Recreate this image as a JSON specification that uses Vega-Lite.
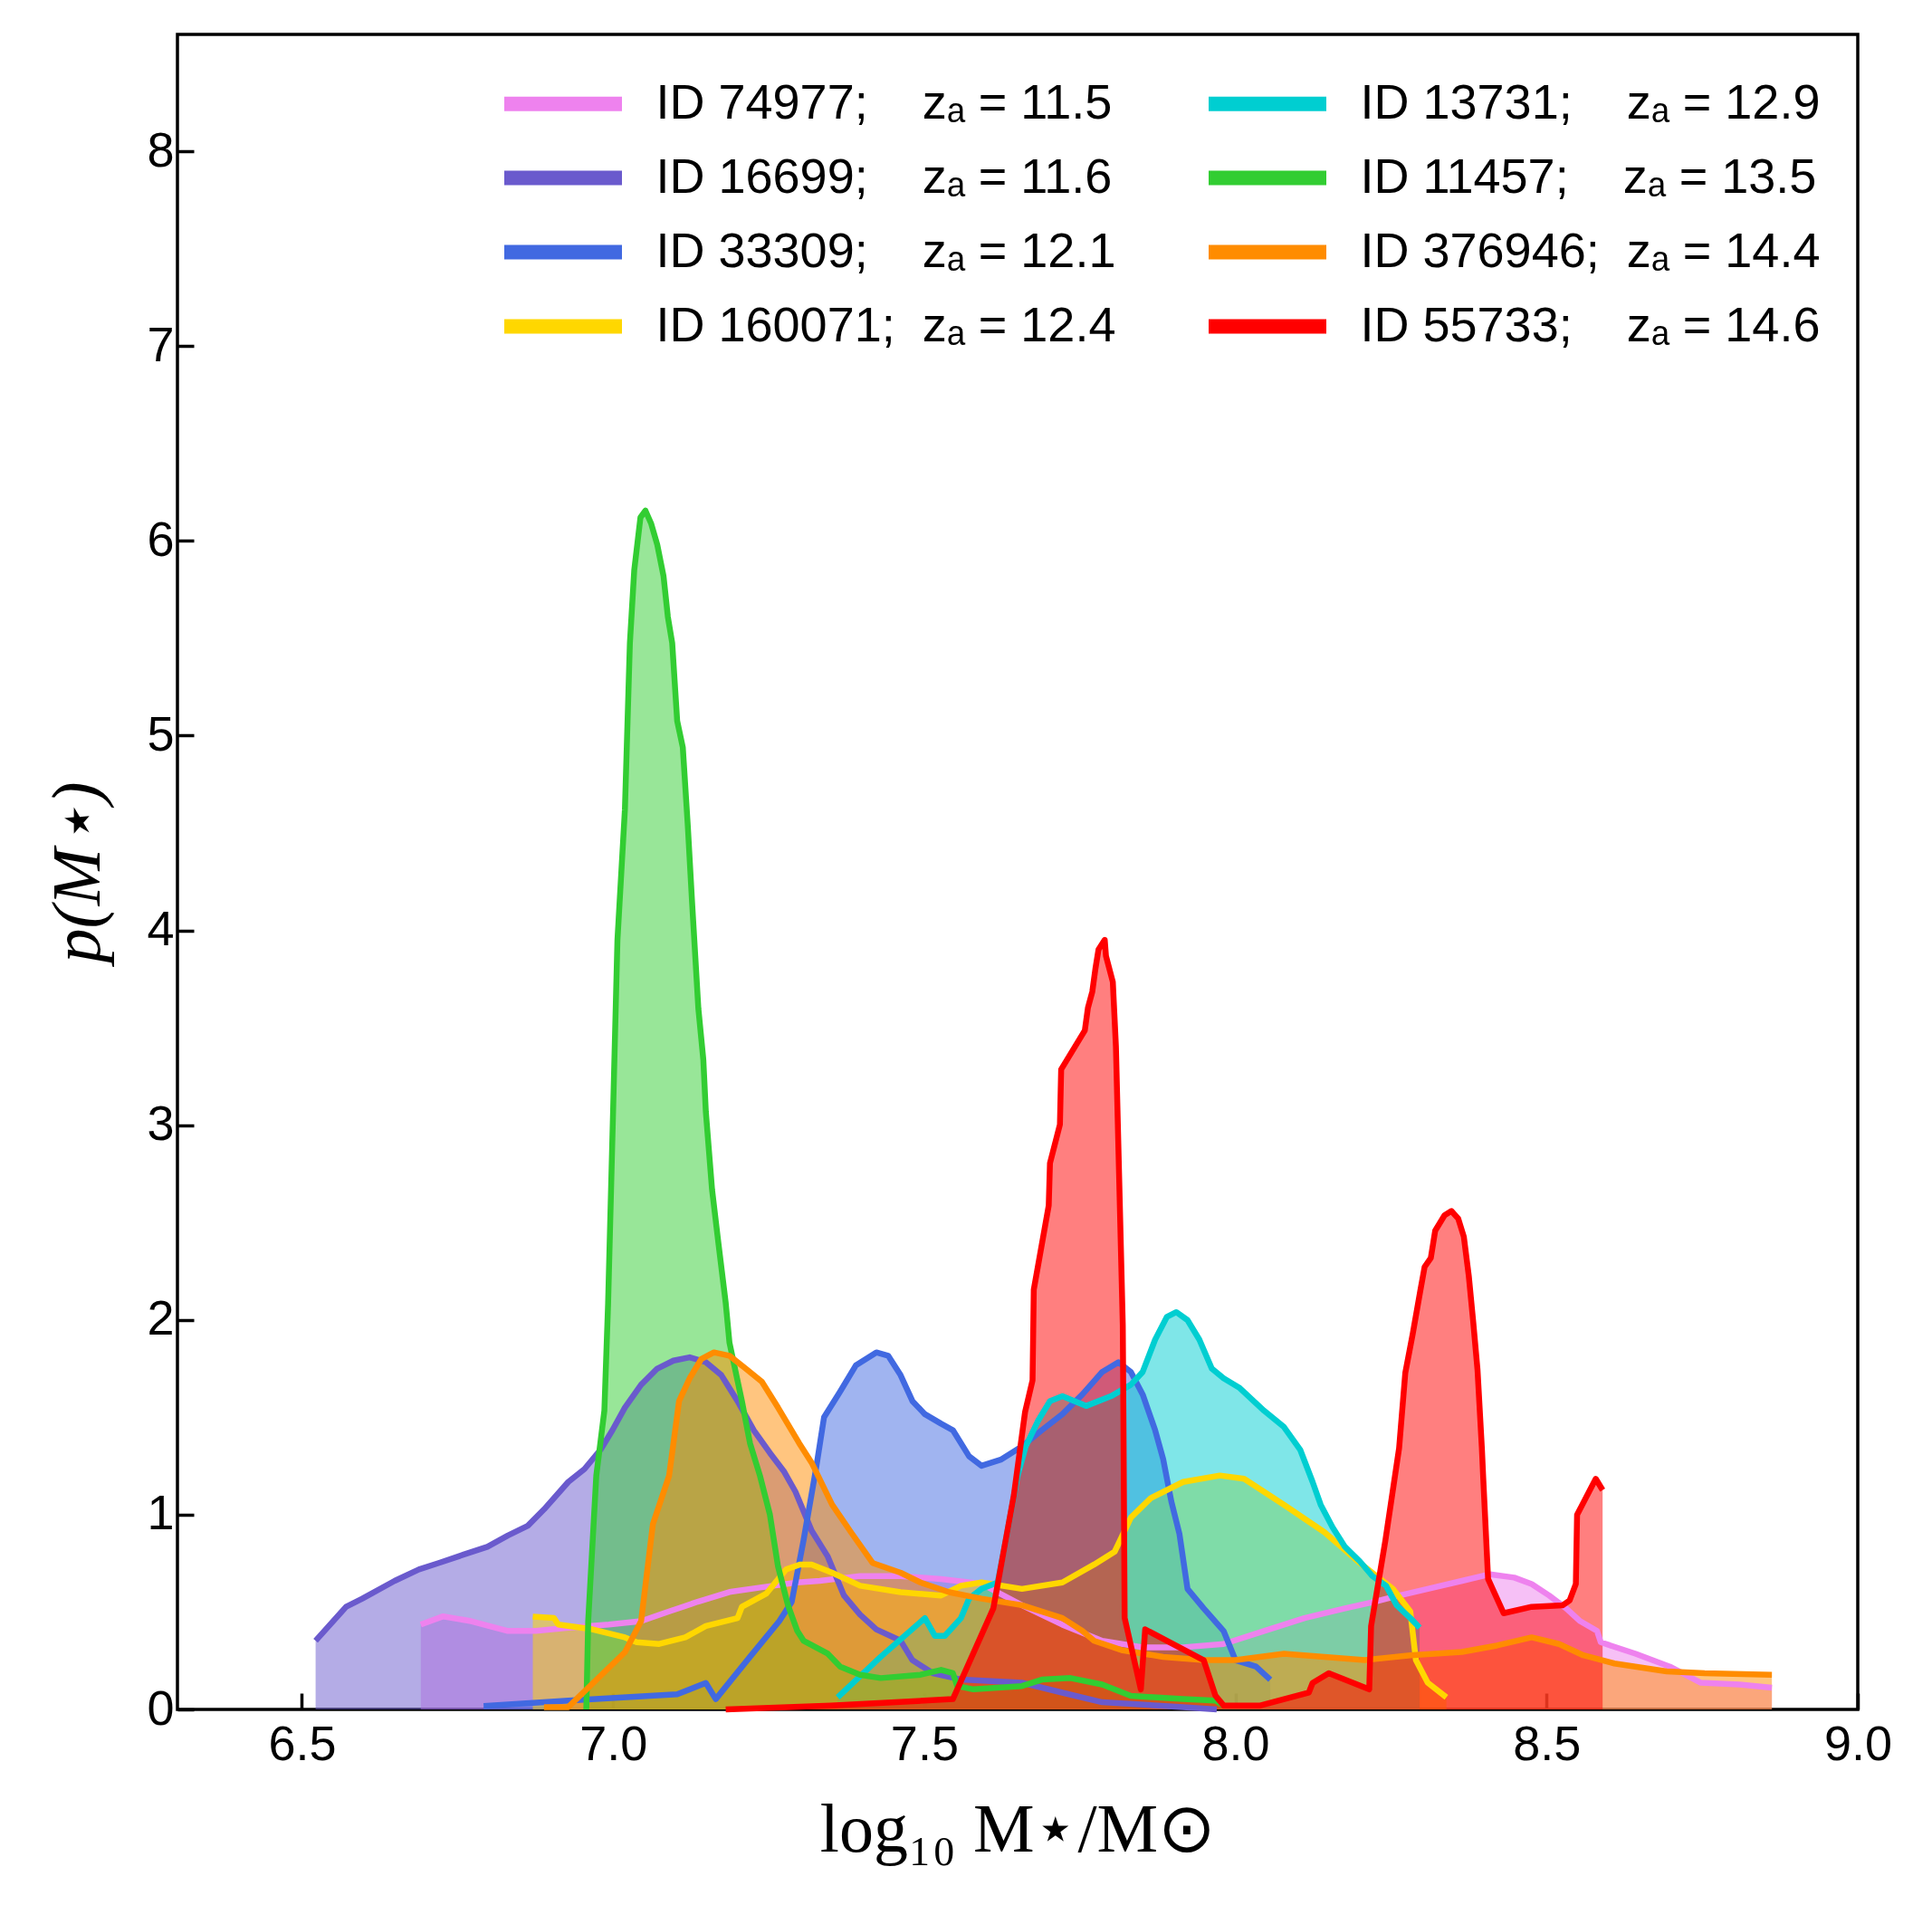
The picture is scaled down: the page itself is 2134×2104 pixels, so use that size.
{
  "$schema": "https://vega.github.io/schema/vega-lite/v6.json",
  "width": 1856,
  "height": 1850,
  "autosize": {"type": "none"},
  "padding": {"left": 196, "top": 38, "right": 82, "bottom": 216},
  "background": "white",
  "datasets": {
    "meta": [
      {"id": "74977", "label": "ID 74977;\u00a0\u00a0\u00a0 z\u2090 = 11.5"},
      {"id": "16699", "label": "ID 16699;\u00a0\u00a0\u00a0 z\u2090 = 11.6"},
      {"id": "33309", "label": "ID 33309;\u00a0\u00a0\u00a0 z\u2090 = 12.1"},
      {"id": "160071", "label": "ID 160071;\u00a0 z\u2090 = 12.4"},
      {"id": "13731", "label": "ID 13731;\u00a0\u00a0\u00a0 z\u2090 = 12.9"},
      {"id": "11457", "label": "ID 11457;\u00a0\u00a0\u00a0 z\u2090 = 13.5"},
      {"id": "376946", "label": "ID 376946;\u00a0 z\u2090 = 14.4"},
      {"id": "55733", "label": "ID 55733;\u00a0\u00a0\u00a0 z\u2090 = 14.6"}
    ],
    "pdf": [
      {"id": "74977", "x": 6.691, "y": 0.436}, {"id": "74977", "x": 6.727, "y": 0.478}, {"id": "74977", "x": 6.772, "y": 0.453},
      {"id": "74977", "x": 6.831, "y": 0.403}, {"id": "74977", "x": 6.876, "y": 0.403}, {"id": "74977", "x": 6.928, "y": 0.42},
      {"id": "74977", "x": 6.993, "y": 0.436}, {"id": "74977", "x": 7.045, "y": 0.453}, {"id": "74977", "x": 7.09, "y": 0.503},
      {"id": "74977", "x": 7.136, "y": 0.553}, {"id": "74977", "x": 7.187, "y": 0.603}, {"id": "74977", "x": 7.239, "y": 0.627},
      {"id": "74977", "x": 7.296, "y": 0.652}, {"id": "74977", "x": 7.332, "y": 0.66}, {"id": "74977", "x": 7.397, "y": 0.685},
      {"id": "74977", "x": 7.462, "y": 0.685}, {"id": "74977", "x": 7.527, "y": 0.669}, {"id": "74977", "x": 7.592, "y": 0.645},
      {"id": "74977", "x": 7.657, "y": 0.535}, {"id": "74977", "x": 7.722, "y": 0.435}, {"id": "74977", "x": 7.786, "y": 0.352},
      {"id": "74977", "x": 7.851, "y": 0.319}, {"id": "74977", "x": 7.916, "y": 0.319}, {"id": "74977", "x": 7.981, "y": 0.336},
      {"id": "74977", "x": 8.046, "y": 0.403}, {"id": "74977", "x": 8.111, "y": 0.469}, {"id": "74977", "x": 8.176, "y": 0.519},
      {"id": "74977", "x": 8.22, "y": 0.55}, {"id": "74977", "x": 8.253, "y": 0.577}, {"id": "74977", "x": 8.309, "y": 0.619},
      {"id": "74977", "x": 8.364, "y": 0.66}, {"id": "74977", "x": 8.409, "y": 0.694}, {"id": "74977", "x": 8.448, "y": 0.677},
      {"id": "74977", "x": 8.476, "y": 0.644}, {"id": "74977", "x": 8.504, "y": 0.585}, {"id": "74977", "x": 8.531, "y": 0.52},
      {"id": "74977", "x": 8.554, "y": 0.453}, {"id": "74977", "x": 8.581, "y": 0.403}, {"id": "74977", "x": 8.587, "y": 0.345},
      {"id": "74977", "x": 8.643, "y": 0.286}, {"id": "74977", "x": 8.698, "y": 0.22}, {"id": "74977", "x": 8.748, "y": 0.137},
      {"id": "74977", "x": 8.81, "y": 0.128}, {"id": "74977", "x": 8.862, "y": 0.112},

      {"id": "16699", "x": 6.522, "y": 0.353}, {"id": "16699", "x": 6.571, "y": 0.527}, {"id": "16699", "x": 6.597, "y": 0.569},
      {"id": "16699", "x": 6.649, "y": 0.66}, {"id": "16699", "x": 6.688, "y": 0.719}, {"id": "16699", "x": 6.72, "y": 0.752},
      {"id": "16699", "x": 6.759, "y": 0.794}, {"id": "16699", "x": 6.798, "y": 0.835}, {"id": "16699", "x": 6.831, "y": 0.893},
      {"id": "16699", "x": 6.863, "y": 0.943}, {"id": "16699", "x": 6.889, "y": 1.027}, {"id": "16699", "x": 6.928, "y": 1.168},
      {"id": "16699", "x": 6.954, "y": 1.234}, {"id": "16699", "x": 6.98, "y": 1.334}, {"id": "16699", "x": 6.999, "y": 1.434},
      {"id": "16699", "x": 7.019, "y": 1.55}, {"id": "16699", "x": 7.045, "y": 1.667}, {"id": "16699", "x": 7.071, "y": 1.75},
      {"id": "16699", "x": 7.097, "y": 1.791}, {"id": "16699", "x": 7.123, "y": 1.808}, {"id": "16699", "x": 7.149, "y": 1.783},
      {"id": "16699", "x": 7.174, "y": 1.716}, {"id": "16699", "x": 7.2, "y": 1.583}, {"id": "16699", "x": 7.226, "y": 1.434},
      {"id": "16699", "x": 7.252, "y": 1.317}, {"id": "16699", "x": 7.275, "y": 1.22}, {"id": "16699", "x": 7.293, "y": 1.118},
      {"id": "16699", "x": 7.319, "y": 0.918}, {"id": "16699", "x": 7.345, "y": 0.785}, {"id": "16699", "x": 7.371, "y": 0.585},
      {"id": "16699", "x": 7.397, "y": 0.486}, {"id": "16699", "x": 7.423, "y": 0.411}, {"id": "16699", "x": 7.462, "y": 0.353},
      {"id": "16699", "x": 7.481, "y": 0.253}, {"id": "16699", "x": 7.514, "y": 0.186}, {"id": "16699", "x": 7.56, "y": 0.153},
      {"id": "16699", "x": 7.657, "y": 0.137}, {"id": "16699", "x": 7.722, "y": 0.086}, {"id": "16699", "x": 7.786, "y": 0.037},
      {"id": "16699", "x": 7.916, "y": 0.012}, {"id": "16699", "x": 7.97, "y": 0.0},

      {"id": "33309", "x": 6.792, "y": 0.017}, {"id": "33309", "x": 6.928, "y": 0.045}, {"id": "33309", "x": 7.103, "y": 0.078},
      {"id": "33309", "x": 7.149, "y": 0.136}, {"id": "33309", "x": 7.165, "y": 0.053}, {"id": "33309", "x": 7.22, "y": 0.27},
      {"id": "33309", "x": 7.267, "y": 0.453}, {"id": "33309", "x": 7.287, "y": 0.552}, {"id": "33309", "x": 7.306, "y": 0.868},
      {"id": "33309", "x": 7.326, "y": 1.234}, {"id": "33309", "x": 7.339, "y": 1.5}, {"id": "33309", "x": 7.365, "y": 1.633},
      {"id": "33309", "x": 7.39, "y": 1.766}, {"id": "33309", "x": 7.423, "y": 1.833}, {"id": "33309", "x": 7.442, "y": 1.816},
      {"id": "33309", "x": 7.462, "y": 1.716}, {"id": "33309", "x": 7.481, "y": 1.583}, {"id": "33309", "x": 7.501, "y": 1.516},
      {"id": "33309", "x": 7.527, "y": 1.467}, {"id": "33309", "x": 7.546, "y": 1.434}, {"id": "33309", "x": 7.572, "y": 1.3},
      {"id": "33309", "x": 7.592, "y": 1.251}, {"id": "33309", "x": 7.624, "y": 1.284}, {"id": "33309", "x": 7.657, "y": 1.35},
      {"id": "33309", "x": 7.689, "y": 1.434}, {"id": "33309", "x": 7.722, "y": 1.516}, {"id": "33309", "x": 7.754, "y": 1.617},
      {"id": "33309", "x": 7.786, "y": 1.733}, {"id": "33309", "x": 7.812, "y": 1.783}, {"id": "33309", "x": 7.832, "y": 1.733},
      {"id": "33309", "x": 7.851, "y": 1.617}, {"id": "33309", "x": 7.871, "y": 1.434}, {"id": "33309", "x": 7.884, "y": 1.284},
      {"id": "33309", "x": 7.897, "y": 1.068}, {"id": "33309", "x": 7.91, "y": 0.902}, {"id": "33309", "x": 7.923, "y": 0.619},
      {"id": "33309", "x": 7.949, "y": 0.519}, {"id": "33309", "x": 7.981, "y": 0.403}, {"id": "33309", "x": 8.0, "y": 0.253},
      {"id": "33309", "x": 8.033, "y": 0.22}, {"id": "33309", "x": 8.056, "y": 0.153},

      {"id": "160071", "x": 6.871, "y": 0.477}, {"id": "160071", "x": 6.905, "y": 0.469}, {"id": "160071", "x": 6.912, "y": 0.436},
      {"id": "160071", "x": 6.967, "y": 0.411}, {"id": "160071", "x": 7.019, "y": 0.37}, {"id": "160071", "x": 7.038, "y": 0.345},
      {"id": "160071", "x": 7.074, "y": 0.336}, {"id": "160071", "x": 7.116, "y": 0.37}, {"id": "160071", "x": 7.149, "y": 0.428},
      {"id": "160071", "x": 7.2, "y": 0.469}, {"id": "160071", "x": 7.207, "y": 0.527}, {"id": "160071", "x": 7.246, "y": 0.594},
      {"id": "160071", "x": 7.278, "y": 0.719}, {"id": "160071", "x": 7.3, "y": 0.744}, {"id": "160071", "x": 7.319, "y": 0.744},
      {"id": "160071", "x": 7.352, "y": 0.702}, {"id": "160071", "x": 7.397, "y": 0.635}, {"id": "160071", "x": 7.462, "y": 0.602},
      {"id": "160071", "x": 7.527, "y": 0.585}, {"id": "160071", "x": 7.559, "y": 0.635}, {"id": "160071", "x": 7.592, "y": 0.652},
      {"id": "160071", "x": 7.657, "y": 0.619}, {"id": "160071", "x": 7.722, "y": 0.652}, {"id": "160071", "x": 7.773, "y": 0.744},
      {"id": "160071", "x": 7.806, "y": 0.81}, {"id": "160071", "x": 7.832, "y": 0.985}, {"id": "160071", "x": 7.864, "y": 1.085},
      {"id": "160071", "x": 7.916, "y": 1.168}, {"id": "160071", "x": 7.975, "y": 1.201}, {"id": "160071", "x": 8.014, "y": 1.184},
      {"id": "160071", "x": 8.078, "y": 1.051}, {"id": "160071", "x": 8.143, "y": 0.91}, {"id": "160071", "x": 8.2, "y": 0.752},
      {"id": "160071", "x": 8.253, "y": 0.619}, {"id": "160071", "x": 8.281, "y": 0.503}, {"id": "160071", "x": 8.29, "y": 0.253},
      {"id": "160071", "x": 8.309, "y": 0.137}, {"id": "160071", "x": 8.339, "y": 0.062},

      {"id": "13731", "x": 7.361, "y": 0.062}, {"id": "13731", "x": 7.43, "y": 0.27}, {"id": "13731", "x": 7.501, "y": 0.469},
      {"id": "13731", "x": 7.517, "y": 0.378}, {"id": "13731", "x": 7.533, "y": 0.378}, {"id": "13731", "x": 7.559, "y": 0.469},
      {"id": "13731", "x": 7.572, "y": 0.569}, {"id": "13731", "x": 7.592, "y": 0.619}, {"id": "13731", "x": 7.618, "y": 0.652},
      {"id": "13731", "x": 7.631, "y": 0.868}, {"id": "13731", "x": 7.65, "y": 1.2}, {"id": "13731", "x": 7.663, "y": 1.35},
      {"id": "13731", "x": 7.683, "y": 1.483}, {"id": "13731", "x": 7.702, "y": 1.583}, {"id": "13731", "x": 7.722, "y": 1.608},
      {"id": "13731", "x": 7.76, "y": 1.558}, {"id": "13731", "x": 7.8, "y": 1.608}, {"id": "13731", "x": 7.832, "y": 1.667},
      {"id": "13731", "x": 7.851, "y": 1.733}, {"id": "13731", "x": 7.871, "y": 1.899}, {"id": "13731", "x": 7.89, "y": 2.016},
      {"id": "13731", "x": 7.905, "y": 2.04}, {"id": "13731", "x": 7.923, "y": 1.999}, {"id": "13731", "x": 7.942, "y": 1.899},
      {"id": "13731", "x": 7.962, "y": 1.75}, {"id": "13731", "x": 7.981, "y": 1.7}, {"id": "13731", "x": 8.007, "y": 1.65},
      {"id": "13731", "x": 8.046, "y": 1.534}, {"id": "13731", "x": 8.078, "y": 1.45}, {"id": "13731", "x": 8.104, "y": 1.334},
      {"id": "13731", "x": 8.124, "y": 1.168}, {"id": "13731", "x": 8.137, "y": 1.051}, {"id": "13731", "x": 8.156, "y": 0.935},
      {"id": "13731", "x": 8.176, "y": 0.835}, {"id": "13731", "x": 8.2, "y": 0.76}, {"id": "13731", "x": 8.22, "y": 0.685},
      {"id": "13731", "x": 8.242, "y": 0.635}, {"id": "13731", "x": 8.259, "y": 0.535}, {"id": "13731", "x": 8.281, "y": 0.469},
      {"id": "13731", "x": 8.296, "y": 0.42},

      {"id": "11457", "x": 6.957, "y": 0.0}, {"id": "11457", "x": 6.96, "y": 0.453}, {"id": "11457", "x": 6.973, "y": 1.2},
      {"id": "11457", "x": 6.986, "y": 1.534}, {"id": "11457", "x": 6.992, "y": 2.086}, {"id": "11457", "x": 7.0, "y": 3.07},
      {"id": "11457", "x": 7.007, "y": 3.95}, {"id": "11457", "x": 7.019, "y": 4.62}, {"id": "11457", "x": 7.027, "y": 5.475},
      {"id": "11457", "x": 7.034, "y": 5.85}, {"id": "11457", "x": 7.044, "y": 6.12}, {"id": "11457", "x": 7.052, "y": 6.155},
      {"id": "11457", "x": 7.061, "y": 6.09}, {"id": "11457", "x": 7.071, "y": 5.98}, {"id": "11457", "x": 7.081, "y": 5.82},
      {"id": "11457", "x": 7.088, "y": 5.61}, {"id": "11457", "x": 7.095, "y": 5.475}, {"id": "11457", "x": 7.103, "y": 5.075},
      {"id": "11457", "x": 7.112, "y": 4.94}, {"id": "11457", "x": 7.12, "y": 4.54}, {"id": "11457", "x": 7.127, "y": 4.14},
      {"id": "11457", "x": 7.132, "y": 3.87}, {"id": "11457", "x": 7.137, "y": 3.6}, {"id": "11457", "x": 7.145, "y": 3.336},
      {"id": "11457", "x": 7.149, "y": 3.07}, {"id": "11457", "x": 7.159, "y": 2.67}, {"id": "11457", "x": 7.169, "y": 2.4},
      {"id": "11457", "x": 7.181, "y": 2.086}, {"id": "11457", "x": 7.187, "y": 1.883}, {"id": "11457", "x": 7.207, "y": 1.583},
      {"id": "11457", "x": 7.22, "y": 1.367}, {"id": "11457", "x": 7.236, "y": 1.2}, {"id": "11457", "x": 7.252, "y": 1.0},
      {"id": "11457", "x": 7.265, "y": 0.735}, {"id": "11457", "x": 7.281, "y": 0.535}, {"id": "11457", "x": 7.296, "y": 0.403},
      {"id": "11457", "x": 7.306, "y": 0.353}, {"id": "11457", "x": 7.345, "y": 0.286}, {"id": "11457", "x": 7.365, "y": 0.22},
      {"id": "11457", "x": 7.397, "y": 0.178}, {"id": "11457", "x": 7.43, "y": 0.161}, {"id": "11457", "x": 7.494, "y": 0.178},
      {"id": "11457", "x": 7.527, "y": 0.203}, {"id": "11457", "x": 7.546, "y": 0.186}, {"id": "11457", "x": 7.553, "y": 0.12},
      {"id": "11457", "x": 7.579, "y": 0.103}, {"id": "11457", "x": 7.657, "y": 0.12}, {"id": "11457", "x": 7.689, "y": 0.153},
      {"id": "11457", "x": 7.735, "y": 0.161}, {"id": "11457", "x": 7.786, "y": 0.128}, {"id": "11457", "x": 7.832, "y": 0.07},
      {"id": "11457", "x": 7.916, "y": 0.053}, {"id": "11457", "x": 7.968, "y": 0.045}, {"id": "11457", "x": 7.981, "y": 0.02},

      {"id": "376946", "x": 6.889, "y": 0.012}, {"id": "376946", "x": 6.928, "y": 0.012}, {"id": "376946", "x": 7.019, "y": 0.294},
      {"id": "376946", "x": 7.045, "y": 0.453}, {"id": "376946", "x": 7.064, "y": 0.952}, {"id": "376946", "x": 7.09, "y": 1.2},
      {"id": "376946", "x": 7.106, "y": 1.583}, {"id": "376946", "x": 7.123, "y": 1.7}, {"id": "376946", "x": 7.142, "y": 1.8},
      {"id": "376946", "x": 7.162, "y": 1.833}, {"id": "376946", "x": 7.187, "y": 1.816}, {"id": "376946", "x": 7.213, "y": 1.75},
      {"id": "376946", "x": 7.239, "y": 1.683}, {"id": "376946", "x": 7.265, "y": 1.55}, {"id": "376946", "x": 7.299, "y": 1.367},
      {"id": "376946", "x": 7.319, "y": 1.267}, {"id": "376946", "x": 7.352, "y": 1.051}, {"id": "376946", "x": 7.384, "y": 0.902},
      {"id": "376946", "x": 7.417, "y": 0.752}, {"id": "376946", "x": 7.462, "y": 0.702}, {"id": "376946", "x": 7.494, "y": 0.652},
      {"id": "376946", "x": 7.54, "y": 0.602}, {"id": "376946", "x": 7.592, "y": 0.569}, {"id": "376946", "x": 7.657, "y": 0.535},
      {"id": "376946", "x": 7.722, "y": 0.469}, {"id": "376946", "x": 7.754, "y": 0.403}, {"id": "376946", "x": 7.773, "y": 0.352},
      {"id": "376946", "x": 7.819, "y": 0.303}, {"id": "376946", "x": 7.884, "y": 0.27}, {"id": "376946", "x": 7.949, "y": 0.253},
      {"id": "376946", "x": 8.0, "y": 0.253}, {"id": "376946", "x": 8.078, "y": 0.286}, {"id": "376946", "x": 8.143, "y": 0.27},
      {"id": "376946", "x": 8.208, "y": 0.253}, {"id": "376946", "x": 8.281, "y": 0.278}, {"id": "376946", "x": 8.364, "y": 0.295},
      {"id": "376946", "x": 8.42, "y": 0.328}, {"id": "376946", "x": 8.476, "y": 0.37}, {"id": "376946", "x": 8.52, "y": 0.336},
      {"id": "376946", "x": 8.559, "y": 0.278}, {"id": "376946", "x": 8.609, "y": 0.236}, {"id": "376946", "x": 8.693, "y": 0.195},
      {"id": "376946", "x": 8.754, "y": 0.186}, {"id": "376946", "x": 8.862, "y": 0.178},

      {"id": "55733", "x": 7.181, "y": 0.0}, {"id": "55733", "x": 7.35, "y": 0.02}, {"id": "55733", "x": 7.546, "y": 0.053},
      {"id": "55733", "x": 7.611, "y": 0.519}, {"id": "55733", "x": 7.644, "y": 1.1}, {"id": "55733", "x": 7.662, "y": 1.527},
      {"id": "55733", "x": 7.674, "y": 1.69}, {"id": "55733", "x": 7.676, "y": 2.155}, {"id": "55733", "x": 7.7, "y": 2.587},
      {"id": "55733", "x": 7.702, "y": 2.804}, {"id": "55733", "x": 7.718, "y": 3.003}, {"id": "55733", "x": 7.72, "y": 3.286},
      {"id": "55733", "x": 7.758, "y": 3.486}, {"id": "55733", "x": 7.763, "y": 3.602}, {"id": "55733", "x": 7.77, "y": 3.685},
      {"id": "55733", "x": 7.775, "y": 3.802}, {"id": "55733", "x": 7.78, "y": 3.901}, {"id": "55733", "x": 7.79, "y": 3.951},
      {"id": "55733", "x": 7.792, "y": 3.868}, {"id": "55733", "x": 7.803, "y": 3.735}, {"id": "55733", "x": 7.808, "y": 3.402},
      {"id": "55733", "x": 7.813, "y": 2.754}, {"id": "55733", "x": 7.819, "y": 1.972}, {"id": "55733", "x": 7.82, "y": 1.527},
      {"id": "55733", "x": 7.822, "y": 0.47}, {"id": "55733", "x": 7.848, "y": 0.103}, {"id": "55733", "x": 7.855, "y": 0.411},
      {"id": "55733", "x": 7.949, "y": 0.253}, {"id": "55733", "x": 7.968, "y": 0.07}, {"id": "55733", "x": 7.981, "y": 0.02},
      {"id": "55733", "x": 8.04, "y": 0.02}, {"id": "55733", "x": 8.118, "y": 0.087}, {"id": "55733", "x": 8.124, "y": 0.136},
      {"id": "55733", "x": 8.15, "y": 0.186}, {"id": "55733", "x": 8.215, "y": 0.103}, {"id": "55733", "x": 8.218, "y": 0.428},
      {"id": "55733", "x": 8.241, "y": 0.868}, {"id": "55733", "x": 8.263, "y": 1.341}, {"id": "55733", "x": 8.273, "y": 1.729},
      {"id": "55733", "x": 8.285, "y": 1.93}, {"id": "55733", "x": 8.297, "y": 2.148}, {"id": "55733", "x": 8.304, "y": 2.272},
      {"id": "55733", "x": 8.314, "y": 2.318}, {"id": "55733", "x": 8.321, "y": 2.458}, {"id": "55733", "x": 8.336, "y": 2.537},
      {"id": "55733", "x": 8.347, "y": 2.559}, {"id": "55733", "x": 8.358, "y": 2.52}, {"id": "55733", "x": 8.367, "y": 2.427},
      {"id": "55733", "x": 8.375, "y": 2.225}, {"id": "55733", "x": 8.382, "y": 1.993}, {"id": "55733", "x": 8.389, "y": 1.744},
      {"id": "55733", "x": 8.396, "y": 1.341}, {"id": "55733", "x": 8.398, "y": 1.2}, {"id": "55733", "x": 8.406, "y": 0.67},
      {"id": "55733", "x": 8.431, "y": 0.494}, {"id": "55733", "x": 8.476, "y": 0.527}, {"id": "55733", "x": 8.526, "y": 0.535},
      {"id": "55733", "x": 8.537, "y": 0.56}, {"id": "55733", "x": 8.547, "y": 0.644}, {"id": "55733", "x": 8.549, "y": 1.0},
      {"id": "55733", "x": 8.579, "y": 1.184}, {"id": "55733", "x": 8.59, "y": 1.126}
    ]
  },
  "data": {"name": "pdf"},
  "transform": [
    {"lookup": "id", "from": {"data": {"name": "meta"}, "key": "id", "fields": ["label"]}}
  ],
  "encoding": {
    "x": {
      "field": "x", "type": "quantitative",
      "scale": {"domain": [6.3, 9.0], "nice": false, "zero": false},
      "axis": {
        "title": "log\u2081\u2080 M\u22c6/M\u2299",
        "values": [6.5, 7.0, 7.5, 8.0, 8.5, 9.0],
        "format": ".1f",
        "labelFlush": false
      }
    },
    "y": {
      "field": "y", "type": "quantitative", "stack": null,
      "scale": {"domain": [0, 8.6], "nice": false},
      "axis": {
        "title": "p(M\u22c6)",
        "values": [0, 1, 2, 3, 4, 5, 6, 7, 8],
        "titleFontStyle": "italic"
      }
    },
    "color": {
      "field": "label", "type": "nominal",
      "scale": {
        "domain": [
          "ID 74977;\u00a0\u00a0\u00a0 z\u2090 = 11.5", "ID 16699;\u00a0\u00a0\u00a0 z\u2090 = 11.6",
          "ID 33309;\u00a0\u00a0\u00a0 z\u2090 = 12.1", "ID 160071;\u00a0 z\u2090 = 12.4",
          "ID 13731;\u00a0\u00a0\u00a0 z\u2090 = 12.9", "ID 11457;\u00a0\u00a0\u00a0 z\u2090 = 13.5",
          "ID 376946;\u00a0 z\u2090 = 14.4", "ID 55733;\u00a0\u00a0\u00a0 z\u2090 = 14.6"
        ],
        "range": ["#ee82ee", "#6a5acd", "#4169e1", "#ffd700", "#00ced1", "#32cd32", "#ff8c00", "#ff0000"]
      },
      "legend": {
        "title": null,
        "orient": "none",
        "legendX": 361,
        "legendY": 44,
        "columns": 2,
        "columnPadding": 102,
        "rowPadding": 22,
        "symbolType": "M-2,-0.246H2V0.246H-2Z",
        "symbolSize": 4225,
        "symbolOffset": 32.5,
        "symbolStrokeWidth": 0,
        "symbolOpacity": 1,
        "labelOffset": 70,
        "labelFont": "Liberation Sans",
        "labelFontSize": 54,
        "labelColor": "black",
        "labelLimit": 0,
        "padding": 0,
        "encode": {
          "symbols": {"update": {"fill": {"scale": "color", "field": "value"}, "stroke": {"value": "transparent"}, "opacity": {"value": 1}}}
        }
      }
    }
  },
  "layer": [
    {"mark": {"type": "area", "opacity": 0.5, "interpolate": "linear"}},
    {"mark": {"type": "line", "strokeWidth": 6.5, "strokeJoin": "round", "strokeCap": "butt"}}
  ],
  "config": {
    "view": {"stroke": "black", "strokeWidth": 3.5},
    "axis": {
      "domain": false,
      "grid": false,
      "ticks": true,
      "tickColor": "black",
      "tickWidth": 3.5,
      "tickSize": -18,
      "labelFont": "Liberation Sans",
      "labelFontSize": 54,
      "labelColor": "black",
      "titleFont": "Liberation Serif",
      "titleFontSize": 76,
      "titleFontWeight": "normal",
      "titleColor": "black"
    },
    "axisX": {"labelPadding": 30, "titlePadding": 30},
    "axisY": {"labelPadding": 22, "titlePadding": 36}
  }
}
